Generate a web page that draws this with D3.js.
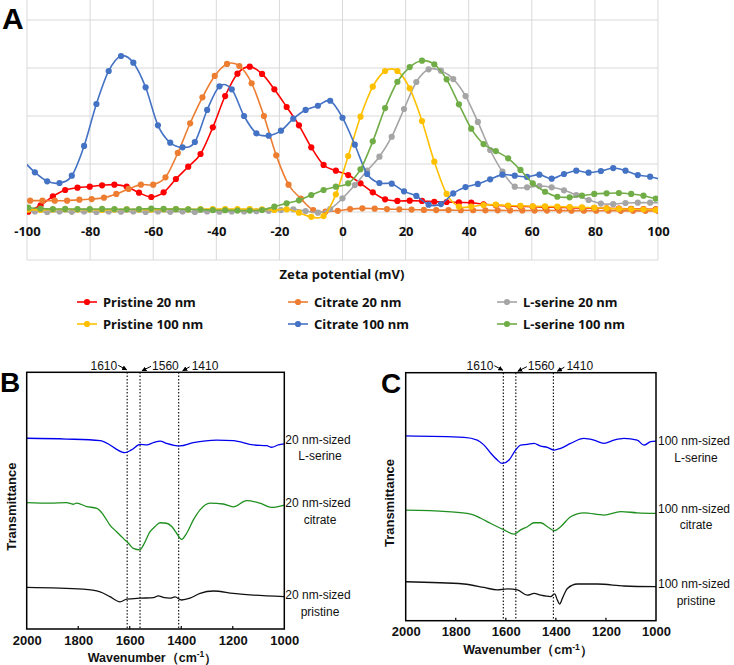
<!DOCTYPE html>
<html><head><meta charset="utf-8">
<script src="https://cdn.jsdelivr.net/npm/d3@7"></script>
<style>body{margin:0;background:#fff} svg{display:block}</style>
</head><body>
<svg id="c" width="734" height="665"></svg>
<script>
// ---------- Panel A data (zeta potential distributions) ----------
const zetaGridA = [-99.6,-95.7,-91.8,-87.9,-84.0,-80.1,-76.2,-72.3,-68.4,-64.5,-60.6,-56.7,-52.8,-48.9,-45.0,-41.1,-37.2,-33.3,-29.4,-25.5,-21.6,-17.7,-13.8,-9.9,-6.0,-2.1,1.8,5.7,9.6,13.5,17.4,21.3,25.2,29.1,33.0,36.9,40.8,44.7,48.6,52.5,56.4,60.3,64.2,68.1,72.0,75.9,79.8,83.7,87.6,91.5,95.4,99.3];
const zetaGridC = [-99.0,-95.1,-91.2,-87.3,-83.4,-79.5,-75.6,-71.7,-67.8,-63.9,-60.0,-56.1,-52.2,-48.3,-44.4,-40.5,-36.6,-32.7,-28.8,-24.9,-21.0,-17.1,-13.2,-9.3,-5.4,-1.5,2.4,6.3,10.2,14.1,18.0,21.9,25.8,29.7,33.6,37.5,41.4,45.3,49.2,53.1,57.0,60.9,64.8,68.7,72.6,76.5,80.4,84.3,88.2,92.1,96.0,99.9];
const zetaGridB = [-101.4,-97.5,-93.6,-89.7,-85.8,-81.9,-78.0,-74.1,-70.2,-66.3,-62.4,-58.5,-54.6,-50.7,-46.8,-42.9,-39.0,-35.1,-31.2,-27.3,-23.4,-19.5,-15.6,-11.7,-7.8,-3.9,0,3.9,7.8,11.7,15.6,19.5,23.4,27.3,31.2,35.1,39.0,42.9,46.8,50.7,54.6,58.5,62.4,66.3,70.2,74.1,78.0,81.9,85.8,89.7,93.6,97.5,101.4];

const pristine20 = [0.03,0.7,1.63,2.29,2.53,2.64,2.78,2.85,2.64,2.01,1.56,2.05,3.44,4.72,6.04,8.82,12.08,14.41,15.14,14.38,12.78,10.94,9.03,6.74,4.9,4.3,3.85,2.99,2.05,1.32,1.15,1.18,1.15,1.07,1.04,1.0,0.97,0.8,0.7,0.62,0.58,0.55,0.5,0.48,0.45,0.42,0.4,0.38,0.35,0.32,0.3,0.28];
const citrate20 = [1.18,1.18,1.18,1.18,1.28,1.35,1.49,1.88,2.4,2.85,2.85,3.61,6.15,9.24,11.95,14.17,15.42,15.21,13.41,10.0,5.9,2.85,1.39,0.2,0.03,0.12,0.3,0.38,0.35,0.3,0.28,0.25,0.22,0.2,0.2,0.18,0.18,0.17,0.17,0.16,0.16,0.15,0.15,0.15,0.14,0.14,0.13,0.13,0.12,0.12,0.12,0.12];
const serine20 = [0.05,0.05,0.0,0.05,0.02,0.05,0.0,0.05,0.03,0.05,0.0,0.05,0.02,0.05,0.0,0.05,0.03,0.05,0.05,0.08,0.12,0.2,0.28,0.1,-0.07,0.31,1.42,2.8,4.3,5.76,7.84,10.73,13.54,14.86,14.72,13.85,12.08,9.38,6.46,4.2,2.64,2.57,2.71,2.57,2.26,1.77,1.25,0.88,0.82,0.94,0.97,0.97,0.95];
const pristine100 = [0.25,0.22,0.25,0.28,0.25,0.25,0.22,0.25,0.28,0.25,0.25,0.28,0.3,0.28,0.3,0.3,0.3,0.3,0.3,0.28,0.21,0.28,-0.07,-0.5,-0.42,1.84,5.83,9.93,13.05,14.69,14.69,12.88,9.48,5.24,1.88,0.56,0.56,0.73,0.76,0.67,0.65,0.6,0.58,0.56,0.52,0.48,0.45,0.38,0.33,0.3,0.28,0.22];
const citrate100 = [5.4,4.13,3.2,3.02,3.78,6.88,11.25,14.69,16.25,15.55,12.99,9.03,7.22,6.74,7.29,10.63,13.09,12.78,10.0,8.2,7.95,8.47,9.72,10.63,11.07,11.59,9.82,7.01,3.96,3.02,2.95,2.15,1.67,0.76,0.83,1.94,2.6,2.92,3.4,3.89,3.78,3.65,3.89,3.47,3.96,4.3,4.1,4.27,4.58,4.3,3.85,3.68,3.35];
const serine100 = [0.45,0.35,0.3,0.32,0.3,0.3,0.32,0.3,0.28,0.3,0.35,0.32,0.3,0.28,0.25,0.2,0.18,0.15,0.15,0.21,0.55,0.9,1.22,1.77,2.29,2.64,2.99,4.45,7.36,10.83,13.57,15.1,15.76,15.38,13.82,11.22,8.68,7.08,6.35,5.59,4.38,2.99,2.11,1.59,1.53,1.7,1.88,1.95,1.98,1.88,1.7,1.39];

const seriesNames = ["Pristine 20 nm","Citrate 20 nm","L-serine 20 nm","Pristine 100 nm","Citrate 100 nm","L-serine 100 nm"];
const seriesColors = ["#ff0000","#ed7d31","#a5a5a5","#ffc000","#4472c4","#70ad47"];
const seriesX = [zetaGridA, zetaGridC, zetaGridB, zetaGridA, zetaGridB, zetaGridA];
const seriesY = [pristine20, citrate20, serine20, pristine100, citrate100, serine100];
const zetaTicks = [-100,-80,-60,-40,-20,0,20,40,60,80,100];
const zetaGridY = [-5,0,5,10,15,20];

// ---------- Panel B / C data (FTIR spectra) ----------
const wnTicks = [2000,1800,1600,1400,1200,1000];
const peakLines = [1610,1560,1410];

const wnB_serine = [2000,1845,1715,1677,1651,1619,1593,1560,1534,1508,1482,1457,1405,1353,1262,1198,1120,1068,1049,1023,1000];
const tB_serine  = [74.3,74.0,73.4,71.7,70.0,68.7,69.8,71.9,71.7,72.6,73.2,72.3,71.3,72.6,73.6,73.4,71.7,71.4,70.8,71.7,72.1];
const wnB_citrate = [2000,1909,1845,1820,1806,1767,1728,1702,1677,1651,1625,1605,1586,1560,1547,1521,1502,1482,1457,1437,1418,1399,1379,1353,1327,1289,1237,1198,1146,1094,1049,1000];
const tB_citrate  = [49.2,49.0,49.2,48.6,49.0,47.7,47.0,44.4,40.5,37.9,35.3,33.4,31.4,30.8,32.7,37.9,39.9,41.4,41.2,39.9,37.3,34.9,37.3,42.5,46.4,49.0,48.7,47.6,50.0,49.0,47.4,48.3];
const wnB_pristine = [2000,1781,1715,1677,1638,1612,1560,1508,1489,1470,1444,1424,1399,1366,1327,1275,1198,1120,1000];
const tB_pristine  = [16.2,15.5,14.5,12.6,10.6,11.6,12.0,12.2,12.9,12.3,12.0,12.5,11.3,12.0,13.9,14.8,13.9,13.2,12.6];

const wnC_serine = [2000,1767,1714,1687,1660,1634,1614,1587,1561,1541,1514,1487,1461,1434,1407,1381,1341,1288,1248,1208,1168,1128,1075,1048,1021,1000];
const tC_serine  = [74.5,73.9,72.8,70.8,67.5,64.8,63.4,64.8,68.8,70.8,71.1,71.5,70.4,69.9,68.8,69.5,71.5,73.5,72.8,71.5,72.8,73.5,72.8,70.8,72.2,72.4];
const wnC_citrate = [2000,1834,1740,1700,1660,1607,1567,1541,1514,1487,1461,1434,1407,1381,1341,1288,1208,1141,1075,1000];
const tC_citrate  = [44.6,44.0,43.0,41.3,39.2,36.6,34.9,36.6,37.9,39.5,39.5,37.9,36.3,37.9,41.9,43.5,42.6,44.0,43.5,43.3];
const wnC_pristine = [2000,1767,1687,1634,1594,1554,1514,1487,1461,1421,1405,1394,1385,1374,1354,1314,1234,1128,1000];
const tC_pristine  = [15.7,14.8,13.4,12.4,12.8,12.4,10.3,11.0,10.3,9.7,10.8,8.3,6.7,9.0,13.0,14.8,14.8,14.0,13.7];

const labelsB = [["20 nm-sized","L-serine"],["20 nm-sized","citrate"],["20 nm-sized","pristine"]];
const labelsC = [["100 nm-sized","L-serine"],["100 nm-sized","citrate"],["100 nm-sized","pristine"]];

// ---------- Drawing ----------
const svg = d3.select("#c");
svg.append("rect").attr("width",734).attr("height",665).attr("fill","#fff");
const fontA = "'Noto Sans', 'Open Sans', sans-serif";
const fontB = "'Liberation Sans', Arial, sans-serif";
const defs = svg.append("defs");

// ---- Panel A ----
const xA = d3.scaleLinear().domain([-100,100]).range([27,658]);
const yA = d3.scaleLinear().domain([-5,25]).range([260,-28]);
const gA = svg.append("g");
gA.selectAll(".vg").data(zetaTicks).join("line")
  .attr("x1",d=>xA(d)).attr("x2",d=>xA(d)).attr("y1",0).attr("y2",yA(-5))
  .attr("stroke","#d9d9d9").attr("stroke-width",1);
gA.selectAll(".hg").data(zetaGridY).join("line")
  .attr("x1",xA(-100)).attr("x2",xA(100)).attr("y1",d=>yA(d)).attr("y2",d=>yA(d))
  .attr("stroke","#d9d9d9").attr("stroke-width",1);

defs.append("clipPath").attr("id","clipA")
  .append("rect").attr("x",xA(-100)).attr("y",-30).attr("width",xA(100)-xA(-100)).attr("height",300);

const lineA = d3.line().curve(d3.curveCardinal.tension(0)).x(d=>xA(d[0])).y(d=>yA(d[1]));
const plotA = gA.append("g").attr("clip-path","url(#clipA)");
seriesNames.forEach((name,i)=>{
  const pts = seriesX[i].map((x,j)=>[x, seriesY[i][j]]);
  const g = plotA.append("g");
  g.append("path").datum(pts).attr("d",lineA).attr("fill","none")
    .attr("stroke",seriesColors[i]).attr("stroke-width",1.6);
  g.selectAll("circle").data(pts).join("circle")
    .attr("cx",d=>xA(d[0])).attr("cy",d=>yA(d[1])).attr("r",3.1).attr("fill",seriesColors[i]);
});

const axA = gA.append("g").attr("transform",`translate(0,${yA(0)})`)
  .call(d3.axisBottom(xA).tickValues(zetaTicks).tickSize(0).tickPadding(15).tickFormat(d=>String(d)));
axA.select(".domain").remove();
axA.selectAll("text").attr("font-family",fontA).attr("font-size",13).attr("font-weight","bold").attr("fill","#111");

svg.append("text").attr("x",342).attr("y",274).attr("dy","0.35em").attr("text-anchor","middle")
  .attr("font-family",fontA).attr("font-size",13).attr("font-weight","bold").attr("fill","#111")
  .text("Zeta potential (mV)");

const legCols = [77,288,497], legRows = [302,324];
seriesNames.forEach((name,i)=>{
  const lx = legCols[i%3], ly = legRows[Math.floor(i/3)];
  const g = svg.append("g");
  g.append("line").attr("x1",lx).attr("x2",lx+20).attr("y1",ly).attr("y2",ly)
    .attr("stroke",seriesColors[i]).attr("stroke-width",1.6);
  g.append("circle").attr("cx",lx+10).attr("cy",ly).attr("r",3.1).attr("fill",seriesColors[i]);
  g.append("text").attr("x",lx+26).attr("y",ly).attr("dy","0.35em")
    .attr("font-family",fontA).attr("font-size",13).attr("font-weight","bold").attr("fill","#111").text(name);
});

svg.append("text").attr("x",2).attr("y",29).attr("font-family",fontB)
  .attr("font-size",30).attr("font-weight","bold").text("A");

// arrow marker
defs.append("marker").attr("id","arr").attr("viewBox","0 0 10 10")
  .attr("refX",9).attr("refY",5).attr("markerWidth",5).attr("markerHeight",5).attr("orient","auto")
  .append("path").attr("d","M0,0 L10,5 L0,10 z").attr("fill","#000");

function ftirPanel(cfg){
  const x = d3.scaleLinear().domain([2000,1000]).range([cfg.left,cfg.right]);
  const y = d3.scaleLinear().domain([0,100]).range([cfg.bottom,cfg.top]);
  const g = svg.append("g");
  // dotted peak lines
  g.selectAll(".pk").data(peakLines).join("line")
    .attr("x1",d=>x(d)).attr("x2",d=>x(d)).attr("y1",cfg.top).attr("y2",cfg.bottom)
    .attr("stroke","#000").attr("stroke-width",1.1).attr("stroke-dasharray","1.5,1.8");
  const line = d3.line().curve(d3.curveMonotoneX).x(d=>x(d[0])).y(d=>y(d[1]));
  cfg.curves.forEach(c=>{
    const pts = c.wn.map((w,i)=>[w,c.t[i]]);
    g.append("path").datum(pts).attr("d",line).attr("fill","none")
      .attr("stroke",c.color).attr("stroke-width",1.3);
  });
  // inner ticks
  g.selectAll(".tk").data(wnTicks.slice(1,-1)).join("line")
    .attr("x1",d=>x(d)).attr("x2",d=>x(d)).attr("y1",cfg.bottom).attr("y2",cfg.bottom-3)
    .attr("stroke","#000").attr("stroke-width",1.2);
  g.append("rect").attr("x",cfg.left).attr("y",cfg.top).attr("width",cfg.right-cfg.left)
    .attr("height",cfg.bottom-cfg.top).attr("fill","none").attr("stroke","#000").attr("stroke-width",1.5);
  const ax = g.append("g").attr("transform",`translate(0,${cfg.bottom})`)
    .call(d3.axisBottom(x).tickValues(wnTicks).tickSize(0).tickPadding(6.5).tickFormat(d3.format("d")));
  ax.select(".domain").remove();
  ax.selectAll("text").attr("font-family",fontB).attr("font-size",13).attr("font-weight","bold").attr("fill","#111");
  const t = g.append("text").attr("x",cfg.xTitle[0]).attr("y",cfg.xTitle[1]).attr("dy","0.35em")
    .attr("text-anchor","middle").attr("font-family",fontB).attr("font-size",12.5).attr("font-weight","bold").attr("fill","#111");
  t.append("tspan").text("Wavenumber（cm");
  t.append("tspan").attr("font-size",8.5).attr("dy","-0.55em").text("-1");
  t.append("tspan").attr("dy","0.45em").text("）");
  g.append("text").attr("transform",`translate(${cfg.yTitle[0]},${cfg.yTitle[1]}) rotate(-90)`)
    .attr("dy","0.35em").attr("text-anchor","middle").attr("font-family",fontB).attr("font-size",13)
    .attr("font-weight","bold").attr("fill","#111").text("Transmittance");
  g.append("text").attr("x",cfg.letter[0]).attr("y",cfg.letter[1]).attr("font-family",fontB)
    .attr("font-size",28).attr("font-weight","bold").text(cfg.letterText);
  // peak annotations
  const ay = cfg.top - 7;
  const ann = g.append("g").attr("font-family",fontB).attr("font-size",12).attr("fill","#111");
  ann.append("text").attr("x",x(1610)-10).attr("y",ay).attr("dy","0.35em").attr("text-anchor","end").text("1610");
  ann.append("line").attr("x1",x(1610)-9).attr("y1",ay).attr("x2",x(1610)-0.5).attr("y2",ay+4.5)
    .attr("stroke","#000").attr("stroke-width",1).attr("marker-end","url(#arr)");
  ann.append("text").attr("x",x(1560)+12).attr("y",ay).attr("dy","0.35em").text("1560");
  ann.append("line").attr("x1",x(1560)+11).attr("y1",ay+1).attr("x2",x(1560)+2).attr("y2",ay+5.5)
    .attr("stroke","#000").attr("stroke-width",1).attr("marker-end","url(#arr)");
  ann.append("text").attr("x",x(1410)+13).attr("y",ay).attr("dy","0.35em").text("1410");
  ann.append("line").attr("x1",x(1410)+11).attr("y1",ay+1.5).attr("x2",x(1410)+4).attr("y2",ay+5.5)
    .attr("stroke","#000").attr("stroke-width",1).attr("marker-end","url(#arr)");
  // right labels
  cfg.labels.forEach((lab,i)=>{
    const tx = g.append("text").attr("x",cfg.labelX).attr("text-anchor","middle")
      .attr("font-family",fontB).attr("font-size",12).attr("fill","#111");
    tx.append("tspan").attr("x",cfg.labelX).attr("y",cfg.labelY[i]).text(lab[0]);
    tx.append("tspan").attr("x",cfg.labelX+2).attr("y",cfg.labelY[i]+16.5).text(lab[1]);
  });
}

ftirPanel({left:26.7,right:284.3,top:372.3,bottom:629,
  xTitle:[152.5,657.5],yTitle:[11.7,506.7],letter:[0,392],letterText:"B",
  labelX:318,labelY:[443.5,507,599],labels:labelsB,
  curves:[{wn:wnB_serine,t:tB_serine,color:"#0000ee"},{wn:wnB_citrate,t:tB_citrate,color:"#1f8f1f"},{wn:wnB_pristine,t:tB_pristine,color:"#111"}]});

ftirPanel({left:405.7,right:656,top:372.7,bottom:620.7,
  xTitle:[528,650],yTitle:[389,503],letter:[381,393],letterText:"C",
  labelX:694,labelY:[445,512.5,588],labels:labelsC,
  curves:[{wn:wnC_serine,t:tC_serine,color:"#0000ee"},{wn:wnC_citrate,t:tC_citrate,color:"#1f8f1f"},{wn:wnC_pristine,t:tC_pristine,color:"#111"}]});
</script>
</body></html>
